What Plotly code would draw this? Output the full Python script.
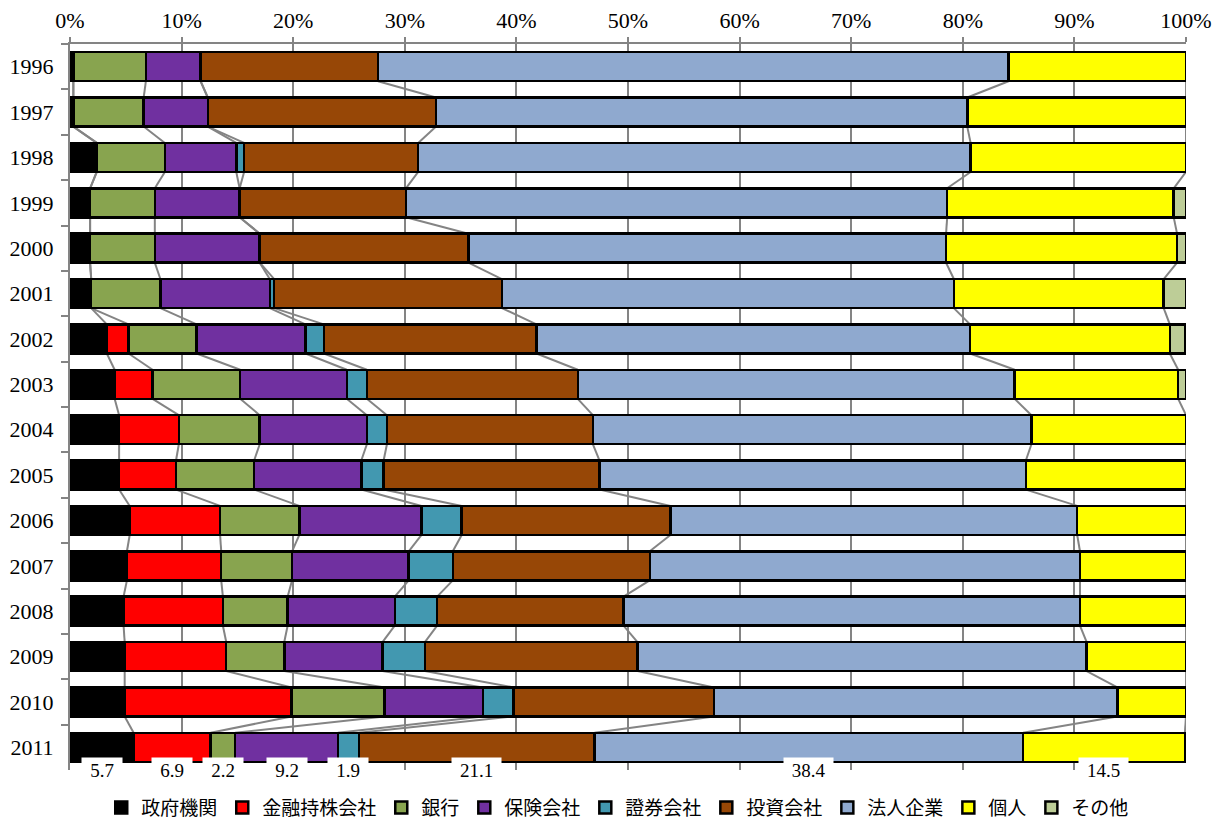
import plotly.graph_objects as go

years = [str(y) for y in range(1996, 2012)]

series_names = ["政府機関", "金融持株会社", "銀行", "保険会社", "證券会社", "投資会社", "法人企業", "個人", "その他"]

gov   = [0.3, 0.3, 2.4, 1.8, 1.8, 1.9, 3.3, 4.0, 4.4, 4.4, 5.35, 5.1, 4.8, 4.9, 4.9, 5.7]
fin   = [0, 0, 0, 0, 0, 0, 1.95, 3.4, 5.35, 5.1, 8.1, 8.45, 8.9, 9.1, 14.95, 6.9]
bank  = [6.5, 6.3, 6.1, 5.8, 5.8, 6.2, 6.1, 7.85, 7.25, 7.0, 7.1, 6.35, 5.8, 5.2, 8.35, 2.2]
ins   = [4.9, 5.75, 6.4, 7.6, 9.4, 9.8, 9.75, 9.55, 9.6, 9.6, 10.95, 10.45, 9.6, 8.8, 8.8, 9.2]
sec   = [0, 0, 0.7, 0, 0, 0.4, 1.65, 1.8, 1.8, 2.0, 3.6, 3.95, 3.8, 3.8, 2.75, 1.9]
inv   = [15.9, 20.45, 15.6, 14.9, 18.7, 20.4, 19.05, 18.9, 18.45, 19.35, 18.7, 17.65, 16.7, 19.05, 17.95, 21.1]
corp  = [56.5, 47.6, 49.5, 48.5, 42.8, 40.5, 38.85, 39.15, 39.3, 38.2, 36.45, 38.55, 40.9, 40.25, 36.15, 38.4]
indiv = [15.9, 19.6, 19.3, 20.3, 20.7, 18.8, 17.9, 14.65, 13.85, 14.35, 9.75, 9.5, 9.5, 8.9, 6.15, 14.5]
other = [0, 0, 0, 1.1, 0.8, 2.0, 1.4, 0.7, 0, 0, 0, 0, 0, 0, 0, 0]

colors = ["#000000", "#FF0000", "#88A44F", "#7030A0", "#4298B0", "#974706", "#8FA9CF", "#FFFF00", "#BDCD97"]

all_series = [gov, fin, bank, ins, sec, inv, corp, indiv, other]

BARGAP = 0.36
GRID = "#848484"
SERIF = "Liberation Serif, Times New Roman, serif"

fig = go.Figure()
for name, vals, col in zip(series_names, all_series, colors):
    fig.add_trace(go.Bar(
        y=years, x=vals, name=name, orientation="h",
        marker=dict(color=col, line=dict(color="#000000", width=2.5)),
        hoverinfo="x+y+name",
    ))

# series lines connecting cumulative boundaries between adjacent bars
n = len(years)
cums = []
for i in range(n):
    c, acc = [], 0.0
    for s in all_series:
        acc += s[i]
        c.append(acc)
    cums.append(c)

half = (1 - BARGAP) / 2
shapes = []
for i in range(n - 1):
    for k in range(len(all_series) - 1):
        shapes.append(dict(
            type="line", xref="x", yref="y", layer="below",
            x0=cums[i][k], y0=i + half, x1=cums[i + 1][k], y1=i + 1 - half,
            line=dict(color=GRID, width=2),
        ))

# data labels for the last year
last = n - 1
annotations = []
start = 0.0
for s in all_series[:-1]:
    v = s[last]
    label = f"{v:.1f}"
    annotations.append(dict(
        x=start + v / 2, y=last + 0.5, xref="x", yref="y",
        text=label, showarrow=False, bgcolor="#FFFFFF",
        width=len(label) * 9 + 11, height=23,
        font=dict(family=SERIF, size=19, color="#000000"),
    ))
    start += v

fig.update_layout(
    barmode="stack",
    bargap=BARGAP,
    width=1215, height=819,
    margin=dict(l=70, r=29, t=44, b=49, autoexpand=False),
    paper_bgcolor="#FFFFFF", plot_bgcolor="#FFFFFF",
    font=dict(family=SERIF, color="#000000"),
    shapes=shapes,
    annotations=annotations,
    showlegend=True,
    legend=dict(
        orientation="h", x=0.028, xanchor="left", y=-0.052, yanchor="middle",
        traceorder="normal",
        font=dict(family="Noto Sans CJK JP", size=19, color="#000000"),
        itemwidth=30,
    ),
)

fig.update_xaxes(
    side="top", range=[0, 100], dtick=10, ticksuffix="%",
    showgrid=True, gridcolor=GRID, gridwidth=2,
    ticks="outside", ticklen=5, tickwidth=2, tickcolor=GRID,
    showline=True, linecolor=GRID, linewidth=2, zeroline=False,
    tickfont=dict(family=SERIF, size=22, color="#000000"),
)
fig.update_yaxes(
    type="category", categoryorder="array", categoryarray=years,
    autorange=False, range=[n - 0.5, -0.5], tickson="boundaries",
    ticks="outside", ticklen=7, tickwidth=2, tickcolor=GRID,
    ticklabelstandoff=10,
    showline=True, linecolor=GRID, linewidth=2, showgrid=False,
    tickfont=dict(family=SERIF, size=22, color="#000000"),
)

fig.write_html("out.html")
